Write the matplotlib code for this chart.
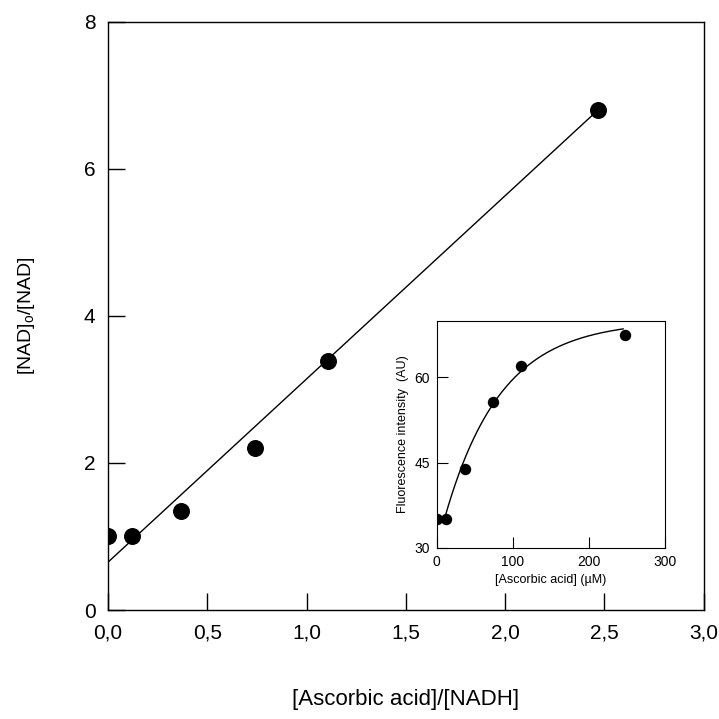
import numpy as np
import matplotlib
matplotlib.use("Agg")
import matplotlib.pyplot as plt

plt.rcParams['font.family'] = ['Liberation Sans', 'DejaVu Sans']

# Main plot data
ratio_x = [0.0, 0.12, 0.37, 0.74, 1.11, 2.47]
nad_ratio = [1.0, 1.0, 1.35, 2.2, 3.38, 6.8]
fit_intercept = 0.65
fit_slope = 2.49
fit_xrange = [0.0, 2.47]

# Inset data
asc_conc = [0, 12, 37, 74, 111, 248]
fluor = [35.0, 35.0, 43.8, 55.6, 62.0, 67.5]
inset_fit_A = 70.0
inset_fit_B = 40.1
inset_fit_k = 0.01356
inset_fit_range = [10, 245]

main_xticks = [0.0, 0.5, 1.0, 1.5, 2.0, 2.5, 3.0]
main_xticklabels = ['0,0', '0,5', '1,0', '1,5', '2,0', '2,5', '3,0']
main_yticks = [0, 2, 4, 6, 8]

fig = plt.figure(figsize=(7.19, 7.19), dpi=100)
ax = fig.add_axes([108 / 719, 1 - 610 / 719, (703.5 - 108) / 719, (610 - 21.5) / 719])

ax.plot(ratio_x, nad_ratio, 'o', color='black', markersize=11.2, zorder=3)
fx = np.linspace(fit_xrange[0], fit_xrange[1], 50)
ax.plot(fx, fit_intercept + fit_slope * fx, color='black', lw=1.0)

ax.set_xlim(0, 3.0)
ax.set_ylim(0, 8)
ax.set_xticks(main_xticks)
ax.set_xticklabels(main_xticklabels)
ax.set_yticks(main_yticks)
ax.tick_params(direction='in', length=12, width=1.0, labelsize=15,
               top=False, right=False)
ax.tick_params(axis='x', pad=10)
ax.tick_params(axis='y', pad=9)
for s in ax.spines.values():
    s.set_linewidth(1.0)
ax.set_xlabel('[Ascorbic acid]/[NADH]', fontsize=16, labelpad=33)
ax.set_ylabel('[NAD]$_\\mathregular{o}$/[NAD]', fontsize=14, labelpad=34)

# Inset
axi = fig.add_axes([436.7 / 719, 1 - 547.7 / 719, (665 - 436.7) / 719, (547.7 - 320.7) / 719])
axi.plot(asc_conc, fluor, 'o', color='black', markersize=7.2, zorder=3)
ix = np.linspace(inset_fit_range[0], inset_fit_range[1], 200)
axi.plot(ix, inset_fit_A - inset_fit_B * np.exp(-inset_fit_k * ix), color='black', lw=1.0)
axi.set_xlim(0, 300)
axi.set_ylim(30, 70)
axi.set_xticks([0, 100, 200, 300])
axi.set_yticks([30, 45, 60])
axi.tick_params(direction='in', length=8, width=0.8, labelsize=10, pad=5,
                top=False, right=False)
for s in axi.spines.values():
    s.set_linewidth(0.8)
axi.set_xlabel('[Ascorbic acid] (\u00b5M)', fontsize=9, labelpad=4)
axi.set_ylabel('Fluorescence intensity  (AU)', fontsize=9, labelpad=4)

fig.savefig('out.png', dpi=100)
